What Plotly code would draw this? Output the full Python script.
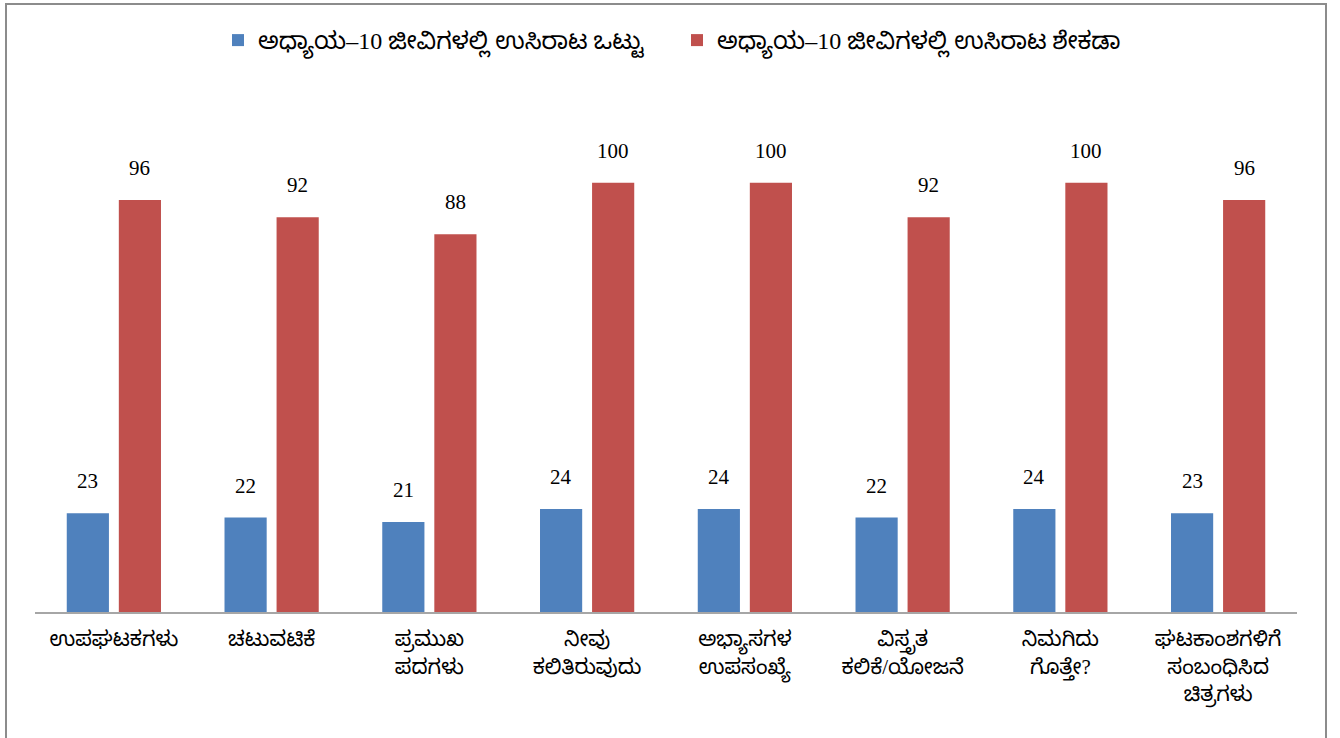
import plotly.graph_objects as go

categories = [
    "ಉಪಘಟಕಗಳು",
    "ಚಟುವಟಿಕೆ",
    "ಪ್ರಮುಖ<br>ಪದಗಳು",
    "ನೀವು<br>ಕಲಿತಿರುವುದು",
    "ಅಭ್ಯಾಸಗಳ<br>ಉಪಸಂಖ್ಯೆ",
    "ವಿಸ್ತೃತ<br>ಕಲಿಕೆ/ಯೋಜನೆ",
    "ನಿಮಗಿದು<br>ಗೊತ್ತೇ?",
    "ಘಟಕಾಂಶಗಳಿಗೆ<br>ಸಂಬಂಧಿಸಿದ<br>ಚಿತ್ರಗಳು",
]
series_names = [
    "ಅಧ್ಯಾಯ–10 ಜೀವಿಗಳಲ್ಲಿ ಉಸಿರಾಟ ಒಟ್ಟು",
    "ಅಧ್ಯಾಯ–10 ಜೀವಿಗಳಲ್ಲಿ ಉಸಿರಾಟ ಶೇಕಡಾ",
]
total_values = [23, 22, 21, 24, 24, 22, 24, 23]
percent_values = [96, 92, 88, 100, 100, 92, 100, 96]

colors = ["#4F81BD", "#C0504D"]
label_font = dict(family="Liberation Serif, Times New Roman, serif", size=21, color="#000000")
kn_font = "Liberation Serif, Noto Sans Kannada, Tunga, Lohit Kannada, Noto Sans, sans-serif"

fig = go.Figure()
for name, vals, col in zip(series_names, [total_values, percent_values], colors):
    fig.add_trace(go.Bar(
        x=categories, y=vals, name=name,
        marker=dict(color=col, line=dict(width=0)),
    ))

# value labels above bars
for vals, shift in [(total_values, -26), (percent_values, 26)]:
    for c, v in zip(categories, vals):
        fig.add_annotation(
            x=c, y=v, xref="x", yref="y", text=str(v), showarrow=False,
            xshift=shift, yshift=32, font=label_font,
        )

W, H = 1340, 738
ml, mr, mt, mb = 35, 43, 97, 126
pw, ph = W - ml - mr, H - mt - mb

def px_x(p):
    return (p - ml) / pw

def px_y(p):
    return (H - mb - p) / ph

fig.add_shape(
    type="rect", xref="paper", yref="paper",
    x0=px_x(6), x1=px_x(1326), y0=px_y(745), y1=px_y(4),
    line=dict(color="#8C8C8C", width=2), fillcolor="rgba(0,0,0,0)", layer="above",
)

fig.update_layout(
    width=W, height=H,
    margin=dict(l=ml, r=mr, t=mt, b=mb),
    paper_bgcolor="white", plot_bgcolor="white",
    barmode="group", bargap=0.34, bargroupgap=0.19,
    showlegend=True,
    legend=dict(
        orientation="h", x=px_x(218), xanchor="left", y=px_y(18), yanchor="top",
        font=dict(family=kn_font, size=24, color="#000000"),
        itemwidth=30, tracegroupgap=0,
        entrywidth=414, entrywidthmode="pixels",
    ),
    xaxis=dict(
        showline=True, linecolor="#A6A6A6", linewidth=2,
        ticks="outside", ticklen=7, tickcolor="rgba(0,0,0,0)",
        tickfont=dict(family=kn_font, size=21, color="#000000"),
        showgrid=False, zeroline=False, fixedrange=True,
    ),
    yaxis=dict(
        range=[0, 120], visible=False, showgrid=False, zeroline=False,
    ),
)

fig.write_html(
    "out.html",
    config={"displayModeBar": False},
    post_script="document.body.style.margin='0';document.body.style.padding='0';",
)
